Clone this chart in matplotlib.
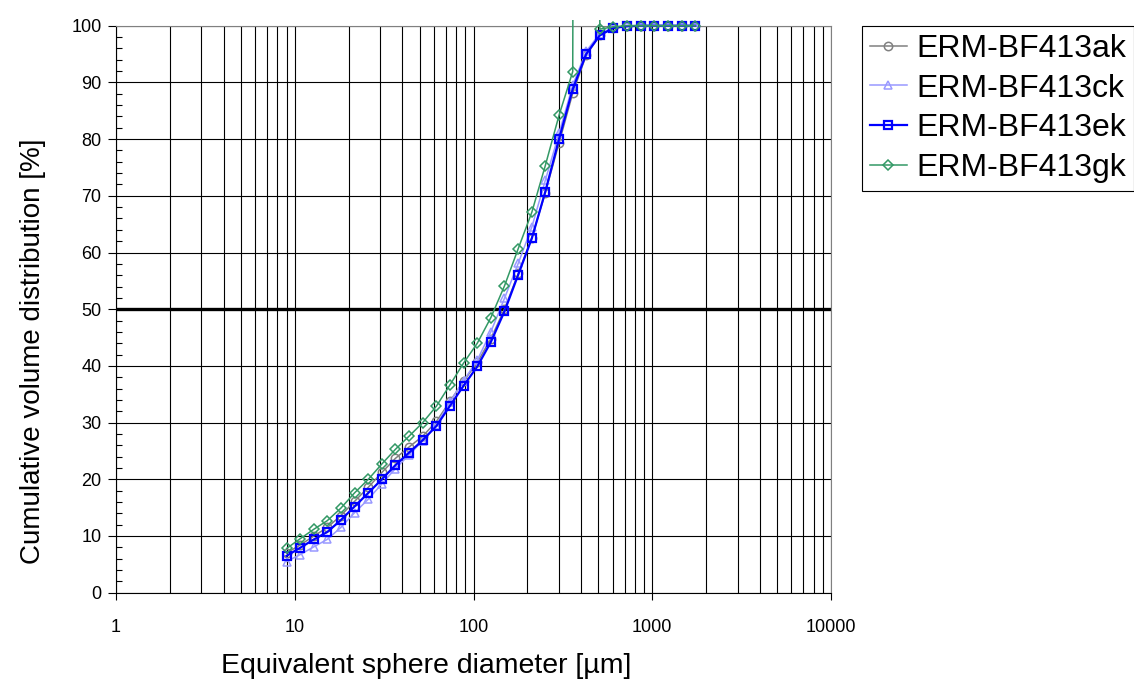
import numpy as np
import matplotlib
matplotlib.use("Agg")
import matplotlib.pyplot as plt
from matplotlib.patches import Rectangle
from matplotlib.ticker import LogLocator, FixedLocator, NullFormatter

plt.rcParams['font.family'] = ['Liberation Sans', 'DejaVu Sans']

# particle size classes [um]
diameter = [9, 10.7, 12.8, 15.2, 18.1, 21.6, 25.8, 30.7, 36.6, 43.6, 52, 62,
            74, 88, 105, 125, 149, 178, 212, 252, 301, 359, 427, 509, 607,
            723, 862, 1027, 1224, 1459, 1739]

# cumulative volume distribution [%]
bf413ak = [7.0, 8.4, 10.0, 11.5, 13.6, 16.1, 18.6, 21.2, 23.7, 25.7, 27.6, 30.2,
           33.8, 37.3, 40.6, 44.8, 50.0, 56.3, 62.6, 70.5, 79.3, 88.1, 94.8, 98.3,
           99.6, 99.9, 100, 100, 100, 100, 100]
bf413ck = [5.5, 6.7, 8.1, 9.4, 11.5, 14.1, 16.5, 19.2, 21.9, 24.3, 26.8, 29.6,
           33.7, 37.4, 41.0, 46.0, 51.9, 58.1, 64.5, 72.7, 81.0, 89.5, 95.5, 98.6,
           99.7, 99.9, 100, 100, 100, 100, 100]
bf413ek = [6.5, 7.9, 9.4, 10.7, 12.8, 15.2, 17.6, 20.0, 22.5, 24.7, 26.9, 29.4,
           33.0, 36.5, 39.9, 44.2, 49.6, 56.1, 62.5, 70.7, 80.0, 88.8, 95.0, 98.3,
           99.6, 99.9, 100, 100, 100, 100, 100]
# the 427 um value of gk is off scale in the original
bf413gk = [7.8, 9.5, 11.2, 12.7, 14.9, 17.6, 20.0, 22.7, 25.3, 27.6, 30.0, 32.9,
           36.7, 40.5, 44.0, 48.5, 54.1, 60.7, 67.1, 75.3, 84.2, 91.9, 1000, 99.4,
           99.8, 100, 100, 100, 100, 100, 100]

labels = ['ERM-BF413ak', 'ERM-BF413ck', 'ERM-BF413ek', 'ERM-BF413gk']
series = [bf413ak, bf413ck, bf413ek, bf413gk]
colors = ['#808080', '#9999FF', '#0000FF', '#339966']
markers = ['o', '^', 's', 'D']
msizes = [6, 6, 6, 5]
lws = [1.1, 1.1, 1.6, 1.1]

fig = plt.figure(figsize=(11.34, 6.87), dpi=100)
ax = fig.add_axes([116/1134, 1-592.7/687, (831-116)/1134, (592.7-25.7)/687])

ax.set_xscale('log')
ax.set_xlim(1, 10000)
ax.set_ylim(0, 100)

# grid: every minor decade step vertically, every 10 % horizontally
ax.xaxis.set_major_locator(LogLocator(base=10, numticks=10))
ax.xaxis.set_minor_locator(LogLocator(base=10, subs=np.arange(2, 10), numticks=20))
ax.xaxis.set_minor_formatter(NullFormatter())
ax.set_xticks([1, 10, 100, 1000, 10000])
ax.set_xticklabels(['1', '10', '100', '1000', '10000'])
ax.set_yticks(np.arange(0, 101, 10))
ax.yaxis.set_minor_locator(FixedLocator(np.arange(0, 101, 2)))

ax.grid(True, which='both', axis='x', color='black', linewidth=0.8)
ax.grid(True, which='major', axis='y', color='black', linewidth=0.8)
ax.set_axisbelow(True)

ax.tick_params(axis='x', which='major', direction='out', length=5, width=0.8,
               pad=14, labelsize=13)
ax.tick_params(axis='x', which='minor', length=0)
ax.tick_params(axis='y', which='major', direction='out', length=5.5, width=0.8,
               pad=5, labelsize=13)
ax.tick_params(axis='y', which='minor', direction='in', length=4, width=0.8)

for side in ['top', 'right']:
    ax.spines[side].set_color('#808080')
ax.spines['left'].set_color('black')
ax.spines['bottom'].set_color('black')

ax.axhline(50, color='black', linewidth=2.4, zorder=2)

clip = Rectangle((0, -0.05), 1, 1.06, transform=ax.transAxes, facecolor='none', edgecolor='none')
ax.add_patch(clip)

for vals, lab, c, m, ms, lw in zip(series, labels, colors, markers, msizes, lws):
    line, = ax.plot(diameter, vals, color=c, marker=m, markersize=ms,
                    markerfacecolor='none', markeredgecolor=c, markeredgewidth=lw,
                    linewidth=lw, label=lab, zorder=3)
    line.set_clip_path(clip)

ax.set_xlabel('Equivalent sphere diameter [µm]', fontsize=20.5)
ax.set_ylabel('Cumulative volume distribution [%]', fontsize=20)
ax.xaxis.set_label_coords(0.434, -0.107)
ax.yaxis.set_label_coords(-0.098, 0.425)

leg = fig.legend(loc='upper left', bbox_to_anchor=(862/1134, 1-26/687),
                 bbox_transform=fig.transFigure, fontsize=23, frameon=True,
                 fancybox=False, edgecolor='black', framealpha=1,
                 handlelength=1.15, handletextpad=0.3, labelspacing=0.3,
                 borderpad=0.25, borderaxespad=0)
leg.get_frame().set_linewidth(0.8)

fig.savefig('out.png', dpi=100)
